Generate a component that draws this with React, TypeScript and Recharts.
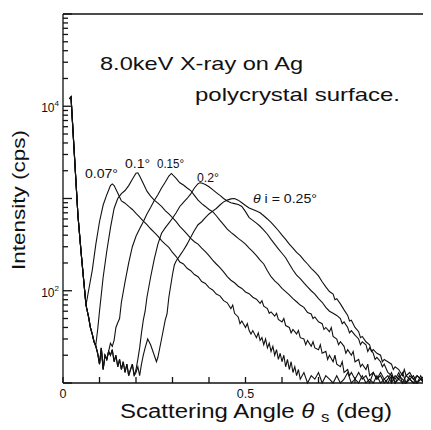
import { LineChart, Line, XAxis, YAxis } from "recharts";

type Point = [number, number];

// scattering angle (deg), intensity (cps)
const directBeam: Point[] = [
  [0.018, 12000], [0.022, 12600], [0.03, 3600], [0.035, 1660], [0.041, 650],
  [0.05, 250], [0.057, 126], [0.063, 70],
];

const sharedDip: Point[] = [
  [0.07, 52], [0.075, 40], [0.08, 34], [0.085, 28],
];

const deepNoise: Point[] = [
  [0.09, 25], [0.095, 21], [0.1, 16], [0.105, 24], [0.11, 14], [0.115, 20],
  [0.12, 18], [0.125, 22],
];

const theta007: Point[] = [
  ...directBeam,
  [0.07, 100], [0.08, 165], [0.09, 320], [0.1, 560], [0.11, 850], [0.12, 1100],
  [0.13, 1380], [0.135, 1440], [0.14, 1380], [0.15, 1150], [0.16, 940], [0.17, 890],
  [0.18, 820], [0.19, 760], [0.2, 690], [0.21, 630], [0.22, 570], [0.23, 520],
  [0.24, 470], [0.25, 430], [0.26, 390], [0.27, 350], [0.28, 320], [0.29, 295],
  [0.3, 260], [0.31, 235], [0.32, 205], [0.33, 195], [0.34, 175], [0.35, 165],
  [0.36, 150], [0.37, 142], [0.38, 126], [0.39, 120], [0.4, 108], [0.41, 102],
  [0.42, 92], [0.43, 88], [0.44, 78], [0.45, 74], [0.46, 64], [0.465, 70],
  [0.47, 57], [0.48, 52], [0.485, 44], [0.49, 47], [0.5, 40], [0.505, 44],
  [0.51, 37], [0.515, 34], [0.52, 37], [0.53, 31], [0.535, 35], [0.54, 29],
  [0.545, 31], [0.55, 26], [0.555, 30], [0.56, 24], [0.565, 27], [0.57, 22],
  [0.575, 25], [0.58, 20], [0.585, 23], [0.59, 18], [0.595, 21], [0.6, 17],
  [0.605, 20], [0.61, 15], [0.615, 18], [0.62, 14], [0.625, 17], [0.63, 13],
  [0.635, 15], [0.64, 12], [0.645, 14], [0.65, 11], [0.66, 13], [0.67, 10],
  [0.68, 12], [0.69, 11], [0.7, 13], [0.71, 10], [0.72, 12], [0.73, 11],
  [0.74, 10], [0.75, 12], [0.76, 10], [0.77, 11], [0.78, 13], [0.79, 10],
  [0.8, 11], [0.81, 10], [0.82, 12], [0.83, 10], [0.84, 11], [0.85, 10],
  [0.86, 12], [0.87, 10], [0.88, 11], [0.89, 10], [0.9, 12], [0.91, 10],
  [0.92, 11], [0.93, 10], [0.94, 10], [0.95, 11], [0.96, 10], [0.97, 10],
  [0.98, 11], [0.99, 10], [1.0, 10],
];

const theta010: Point[] = [
  ...directBeam, ...sharedDip,
  [0.09, 26], [0.095, 38], [0.1, 60], [0.11, 140], [0.12, 270], [0.13, 480],
  [0.14, 780], [0.15, 1000], [0.16, 1130], [0.17, 1220], [0.18, 1380], [0.19, 1620],
  [0.2, 1880], [0.205, 1900], [0.21, 1750], [0.22, 1450], [0.23, 1200], [0.24, 1060],
  [0.25, 960], [0.26, 890], [0.27, 820], [0.28, 740], [0.29, 680], [0.3, 620],
  [0.31, 560], [0.32, 500], [0.33, 455], [0.34, 410], [0.35, 370], [0.36, 340],
  [0.37, 320], [0.38, 290], [0.39, 265], [0.4, 240], [0.41, 215], [0.42, 195],
  [0.43, 178], [0.44, 160], [0.45, 142], [0.46, 130], [0.47, 122], [0.48, 112],
  [0.49, 106], [0.5, 97], [0.51, 93], [0.52, 85], [0.53, 81], [0.54, 73],
  [0.545, 78], [0.55, 68], [0.56, 64], [0.565, 57], [0.57, 59], [0.58, 53],
  [0.585, 57], [0.59, 49], [0.6, 46], [0.605, 50], [0.61, 42], [0.62, 40],
  [0.625, 35], [0.63, 38], [0.64, 34], [0.645, 37], [0.65, 31], [0.66, 30],
  [0.665, 26], [0.67, 29], [0.68, 25], [0.685, 28], [0.69, 24], [0.7, 23],
  [0.705, 26], [0.71, 21], [0.72, 22], [0.725, 18], [0.73, 20], [0.74, 17],
  [0.745, 20], [0.75, 16], [0.76, 15], [0.765, 17], [0.77, 13], [0.78, 14],
  [0.785, 12], [0.79, 13], [0.8, 11], [0.81, 13], [0.82, 11], [0.83, 12],
  [0.84, 10], [0.85, 13], [0.86, 11], [0.87, 12], [0.88, 10], [0.89, 11],
  [0.9, 13], [0.91, 10], [0.92, 12], [0.93, 11], [0.94, 10], [0.95, 12],
  [0.96, 11], [0.97, 10], [0.98, 12], [0.99, 10], [1.0, 11],
];

const theta015: Point[] = [
  ...directBeam, ...sharedDip, ...deepNoise,
  [0.13, 27], [0.135, 25], [0.14, 29], [0.145, 40], [0.15, 45], [0.155, 50],
  [0.16, 75], [0.17, 125], [0.18, 200], [0.19, 300], [0.2, 390], [0.21, 470],
  [0.22, 560], [0.23, 680], [0.24, 800], [0.25, 950], [0.26, 1100], [0.27, 1300],
  [0.28, 1500], [0.29, 1750], [0.297, 1870], [0.31, 1650], [0.32, 1480], [0.33, 1400],
  [0.34, 1300], [0.35, 1220], [0.36, 1080], [0.37, 960], [0.38, 880], [0.39, 820],
  [0.4, 760], [0.41, 720], [0.42, 650], [0.43, 580], [0.44, 520], [0.45, 465],
  [0.46, 430], [0.47, 400], [0.48, 370], [0.49, 345], [0.5, 320], [0.51, 290],
  [0.52, 265], [0.53, 240], [0.54, 215], [0.55, 195], [0.56, 165], [0.57, 142],
  [0.58, 128], [0.59, 118], [0.6, 106], [0.61, 98], [0.62, 90], [0.63, 82],
  [0.64, 76], [0.65, 70], [0.66, 66], [0.67, 58], [0.68, 56], [0.685, 50],
  [0.69, 52], [0.7, 46], [0.71, 44], [0.715, 38], [0.72, 40], [0.73, 36],
  [0.735, 40], [0.74, 32], [0.75, 30], [0.755, 26], [0.76, 28], [0.77, 25],
  [0.775, 21], [0.78, 23], [0.79, 20], [0.795, 22], [0.8, 17], [0.81, 18],
  [0.815, 15], [0.82, 16], [0.83, 14], [0.835, 16], [0.84, 12], [0.85, 13],
  [0.86, 11], [0.87, 13], [0.88, 11], [0.89, 12], [0.9, 10], [0.91, 12],
  [0.92, 11], [0.93, 13], [0.94, 10], [0.95, 11], [0.96, 12], [0.97, 10],
  [0.98, 11], [0.99, 12], [1.0, 10],
];

const theta020: Point[] = [
  ...directBeam, ...sharedDip, ...deepNoise,
  [0.13, 20], [0.135, 23], [0.14, 17], [0.145, 20], [0.15, 15], [0.155, 18],
  [0.16, 14], [0.165, 17], [0.17, 13], [0.175, 16], [0.18, 12], [0.185, 14],
  [0.19, 16], [0.195, 12], [0.2, 14], [0.205, 18], [0.21, 24], [0.215, 35],
  [0.22, 48], [0.225, 60], [0.23, 85], [0.24, 140], [0.25, 220], [0.26, 320],
  [0.27, 420], [0.28, 480], [0.29, 540], [0.3, 610], [0.31, 700], [0.32, 820],
  [0.33, 910], [0.34, 1000], [0.35, 1120], [0.36, 1300], [0.37, 1450], [0.375, 1480],
  [0.38, 1470], [0.39, 1420], [0.4, 1340], [0.41, 1250], [0.42, 1160], [0.43, 1080],
  [0.44, 1000], [0.45, 940], [0.46, 900], [0.47, 880], [0.48, 860], [0.49, 820],
  [0.5, 720], [0.51, 620], [0.52, 580], [0.53, 540], [0.54, 500], [0.55, 455],
  [0.56, 410], [0.57, 360], [0.58, 320], [0.59, 285], [0.6, 255], [0.61, 228],
  [0.62, 195], [0.63, 168], [0.64, 148], [0.65, 135], [0.66, 122], [0.67, 110],
  [0.68, 100], [0.69, 92], [0.7, 82], [0.71, 75], [0.72, 66], [0.73, 60],
  [0.74, 57], [0.75, 54], [0.76, 50], [0.765, 44], [0.77, 46], [0.78, 40],
  [0.785, 35], [0.79, 37], [0.8, 33], [0.81, 30], [0.815, 26], [0.82, 28],
  [0.83, 26], [0.835, 22], [0.84, 24], [0.85, 21], [0.855, 18], [0.86, 19],
  [0.87, 17], [0.875, 15], [0.88, 16], [0.89, 13], [0.9, 12], [0.91, 11],
  [0.92, 13], [0.93, 10], [0.94, 12], [0.95, 11], [0.96, 10], [0.97, 12],
  [0.98, 11], [0.99, 10], [1.0, 12],
];

const theta025: Point[] = [
  ...directBeam, ...sharedDip, ...deepNoise,
  [0.13, 20], [0.135, 23], [0.14, 17], [0.145, 20], [0.15, 15], [0.155, 18],
  [0.16, 14], [0.165, 17], [0.17, 13], [0.175, 16], [0.18, 12], [0.185, 14],
  [0.19, 16], [0.195, 12], [0.2, 13], [0.205, 15], [0.21, 12], [0.215, 16],
  [0.22, 20], [0.225, 24], [0.232, 30], [0.24, 26], [0.25, 20], [0.256, 17],
  [0.26, 19], [0.27, 30], [0.28, 48], [0.285, 56], [0.29, 85], [0.3, 150],
  [0.305, 190], [0.31, 210], [0.32, 240], [0.33, 275], [0.34, 320], [0.35, 380],
  [0.36, 450], [0.37, 520], [0.38, 560], [0.39, 620], [0.4, 680], [0.41, 730],
  [0.42, 780], [0.43, 850], [0.44, 920], [0.45, 960], [0.46, 990], [0.47, 1000],
  [0.48, 960], [0.49, 900], [0.5, 840], [0.51, 790], [0.52, 760], [0.53, 730],
  [0.54, 700], [0.55, 650], [0.56, 600], [0.57, 550], [0.58, 500], [0.59, 450],
  [0.6, 400], [0.61, 360], [0.62, 320], [0.63, 290], [0.64, 260], [0.65, 240],
  [0.66, 215], [0.67, 195], [0.68, 175], [0.69, 160], [0.7, 145], [0.71, 125],
  [0.72, 110], [0.73, 98], [0.74, 92], [0.745, 80], [0.75, 82], [0.76, 72],
  [0.77, 62], [0.78, 54], [0.785, 47], [0.79, 48], [0.8, 40], [0.81, 36],
  [0.815, 31], [0.82, 32], [0.83, 28], [0.84, 26], [0.845, 22], [0.85, 23],
  [0.86, 21], [0.87, 20], [0.875, 17], [0.88, 18], [0.89, 17], [0.9, 16],
  [0.905, 14], [0.91, 15], [0.92, 14], [0.93, 12], [0.935, 14], [0.94, 12],
  [0.95, 13], [0.96, 11], [0.97, 12], [0.98, 11], [0.99, 10], [1.0, 10],
];

const series = [
  { id: "0.07", points: theta007 },
  { id: "0.1", points: theta010 },
  { id: "0.15", points: theta015 },
  { id: "0.2", points: theta020 },
  { id: "0.25", points: theta025 },
];

const angleTicks = [0, 0.1, 0.2, 0.3, 0.4, 0.5, 0.6, 0.7, 0.8, 0.9, 1.0];
const angleLabels: Record<string, string> = { "0": "0", "0.5": "0.5" };

const cpsTicks = [
  10, 20, 30, 40, 50, 60, 70, 80, 90,
  100, 200, 300, 400, 500, 600, 700, 800, 900,
  1000, 2000, 3000, 4000, 5000, 6000, 7000, 8000, 9000,
  10000, 20000, 30000, 40000, 50000, 60000, 70000, 80000, 90000,
  100000,
];
const cpsDecades = [10, 100, 1000, 10000, 100000];
const cpsExponents: Record<number, string> = { 100: "2", 10000: "4" };

const FONT = "'Liberation Sans', Arial, Helvetica, sans-serif";
const INK = "#111";

const toRows = (points: Point[]) => points.map(([angle, cps]) => ({ angle, cps }));

// every tick is drawn here, pointing into the frame (tickSize/tickMargin 0 => x,y sit on the frame)
function BottomTick(props: any) {
  const { x, y, payload } = props;
  const label = angleLabels[String(payload.value)];
  return (
    <g>
      <line x1={x} x2={x} y1={y} y2={y - 6} stroke={INK} strokeWidth={1.3} />
      {label && (
        <text x={x} y={y + 15} textAnchor="middle" fontSize={12.5} fontFamily={FONT} fill={INK}>
          {label}
        </text>
      )}
    </g>
  );
}

function TopTick(props: any) {
  const { x, y } = props;
  return <line x1={x} x2={x} y1={y} y2={y + 6} stroke={INK} strokeWidth={1.3} />;
}

function LeftTick(props: any) {
  const { x, y, payload } = props;
  const v = payload.value;
  const len = cpsDecades.includes(v) ? 9 : 5;
  const exp = cpsExponents[v];
  return (
    <g>
      <line x1={x} x2={x + len} y1={y} y2={y} stroke={INK} strokeWidth={1.3} />
      {exp && (
        <text x={x - 4} y={y + 6} textAnchor="end" fontSize={12} fontFamily={FONT} fill={INK}>
          10<tspan dy={-6} fontSize={8}>{exp}</tspan>
        </text>
      )}
    </g>
  );
}

function RightTick(props: any) {
  const { x, y, payload } = props;
  const len = cpsDecades.includes(payload.value) ? 9 : 5;
  return <line x1={x} x2={x - len} y1={y} y2={y} stroke={INK} strokeWidth={1.3} />;
}

export default function App() {
  const W = 423;
  const H = 422;
  return (
    <div style={{ position: "relative", width: W, height: H }}>
      <LineChart width={W} height={H} margin={{ top: 5, right: 2, bottom: 0, left: 0 }}>
        <XAxis
          dataKey="angle"
          type="number"
          domain={[0, 1]}
          ticks={angleTicks}
          interval={0}
          tickSize={0}
          tickMargin={0}
          tickLine={false}
          tick={<BottomTick />}
          height={47}
          axisLine={{ stroke: INK, strokeWidth: 1.3 }}
        />
        <XAxis
          xAxisId="top"
          orientation="top"
          type="number"
          domain={[0, 1]}
          ticks={angleTicks}
          interval={0}
          tickSize={0}
          tickMargin={0}
          tickLine={false}
          tick={<TopTick />}
          height={1}
          axisLine={{ stroke: INK, strokeWidth: 1.3 }}
        />
        <YAxis
          scale="log"
          domain={[10, 100000]}
          ticks={cpsTicks}
          interval={0}
          tickSize={0}
          tickMargin={0}
          tickLine={false}
          tick={<LeftTick />}
          width={55}
          axisLine={{ stroke: INK, strokeWidth: 1.3 }}
        />
        <YAxis
          yAxisId="right"
          orientation="right"
          scale="log"
          domain={[10, 100000]}
          ticks={cpsTicks}
          interval={0}
          tickSize={0}
          tickMargin={0}
          tickLine={false}
          tick={<RightTick />}
          width={1}
          axisLine={{ stroke: INK, strokeWidth: 1.3 }}
        />
        {series.map((s) => (
          <Line
            key={s.id}
            data={toRows(s.points)}
            dataKey="cps"
            name={s.id}
            type="linear"
            stroke={INK}
            strokeWidth={1.1}
            dot={false}
            isAnimationActive={false}
          />
        ))}
      </LineChart>
      <svg
        width={W}
        height={H}
        style={{ position: "absolute", left: 0, top: 0, pointerEvents: "none" }}
        fontFamily={FONT}
        fill={INK}
      >
        <text x={92} y={62} fontSize={19} textLength={203} lengthAdjust="spacingAndGlyphs">
          8.0keV X-ray on Ag
        </text>
        <text x={187} y={93} fontSize={19} textLength={205} lengthAdjust="spacingAndGlyphs">
          polycrystal surface.
        </text>
        <text x={77} y={170} fontSize={12.5} textLength={33} lengthAdjust="spacingAndGlyphs">0.07°</text>
        <text x={117} y={160} fontSize={12.5} textLength={25} lengthAdjust="spacingAndGlyphs">0.1°</text>
        <text x={149} y={160} fontSize={12.5} textLength={27} lengthAdjust="spacingAndGlyphs">0.15°</text>
        <text x={189} y={174} fontSize={12.5} textLength={22} lengthAdjust="spacingAndGlyphs">0.2°</text>
        <text x={245} y={195} fontSize={12.5} textLength={64} lengthAdjust="spacingAndGlyphs">
          <tspan fontStyle="italic">θ</tspan> i = 0.25°
        </text>
        <text
          transform="translate(17,192) rotate(-90)"
          textAnchor="middle"
          fontSize={18}
          textLength={140}
          lengthAdjust="spacingAndGlyphs"
        >
          Intensity (cps)
        </text>
        <text x={112} y={410} fontSize={20} textLength={272} lengthAdjust="spacingAndGlyphs">
          Scattering Angle <tspan fontStyle="italic">θ</tspan> <tspan dy={4} fontSize={14}>s</tspan>
          <tspan dy={-4}> (deg)</tspan>
        </text>
      </svg>
    </div>
  );
}
